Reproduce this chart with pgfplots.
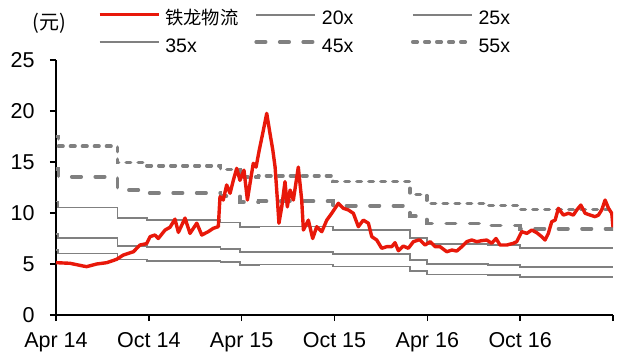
\documentclass[border=0pt]{standalone}
\usepackage{pgfplots}
\pgfplotsset{compat=1.18}
\usepackage{fontspec}
\setmainfont{Liberation Sans}
\newfontfamily\cjk{Noto Sans CJK SC}
\definecolor{redline}{RGB}{232,24,10}
\definecolor{grayline}{RGB}{128,128,128}

\begin{document}
\begin{tikzpicture}[x=1pt,y=1pt]
\path[use as bounding box] (0,0) rectangle (617,356);
\node[font=\cjk\fontsize{20}{24}\selectfont] at (49,333) {(元)};
\begin{axis}[
  scale only axis, width=557pt, height=255pt,
  at={(56pt,41pt)}, anchor=south west,
  xmin=0, xmax=36, ymin=0, ymax=25,
  axis x line*=bottom, axis y line*=left,
  axis line style={line width=1.8pt, black},
  tick style={line width=1.4pt, black},
  tick align=outside, major tick length=6pt,
  xtick={0,6,12,18,24,30,36},
  xticklabels={Apr 14,Oct 14,Apr 15,Oct 15,Apr 16,Oct 16,{}},
  ytick={0,5,10,15,20,25},
  /pgf/number format/assume math mode=true,
  tick label style={font=\fontsize{21.5}{25}\selectfont},
  xticklabel style={yshift=-8pt},
  yticklabel style={xshift=-12pt},
  legend columns=3,
  legend cell align=left,
  legend style={draw=none, fill=none, at={(0.0754,1.204)}, anchor=north west,
    inner sep=0pt, outer sep=0pt, row sep=9pt, column sep=0pt,
    nodes={inner sep=0pt},
    font=\fontsize{19.5}{24}\selectfont,
    /tikz/every odd column/.style={column sep=5pt}},
  legend image code/.code={\draw[#1] (0pt,2.5pt) -- (59pt,2.5pt);},
]
\addlegendimage{redline, line width=3.4pt}
\addlegendentry{\makebox[89pt][l]{\strut\cjk\fontsize{18.3}{22}\selectfont 铁龙物流}}

\addplot[grayline, line width=1.8pt, const plot] coordinates {
(0,6.36)(0.15,6.02)(3.97,5.44)(5.86,5.32)(10.63,5.18)(11.9,4.92)(13.1,4.96)(17.9,4.76)(22.88,4.30)(23.96,3.98)(27.93,3.90)(30.0,3.76)(36,3.76)};
\addlegendentry{\makebox[89pt][l]{\strut 20x}}

\addplot[grayline, line width=1.8pt, const plot] coordinates {
(0,7.95)(0.15,7.53)(3.97,6.80)(5.86,6.65)(10.63,6.48)(11.9,6.15)(13.1,6.20)(17.9,5.95)(22.88,5.38)(23.96,4.98)(27.93,4.88)(30.0,4.70)(36,4.70)};
\addlegendentry{\makebox[89pt][l]{\strut 25x}}

\addplot[grayline, line width=1.8pt, const plot] coordinates {
(0,11.13)(0.15,10.54)(3.97,9.52)(5.86,9.31)(10.63,9.07)(11.9,8.61)(13.1,8.68)(17.9,8.33)(22.88,7.53)(23.96,6.97)(27.93,6.83)(30.0,6.58)(36,6.58)};
\addlegendentry{\makebox[89pt][l]{\strut 35x}}

\addplot[grayline, line width=3.6pt, line cap=round, dash pattern=on 9.5pt off 14pt, const plot] coordinates {
(0,14.31)(0.15,13.55)(3.97,12.24)(5.86,11.97)(10.63,11.66)(11.9,11.07)(13.1,11.16)(17.9,10.71)(22.88,9.68)(23.96,8.96)(27.93,8.78)(30.0,8.46)(36,8.46)};
\addlegendentry{\makebox[89pt][l]{\strut 45x}}

\addplot[grayline, line width=3.6pt, line cap=round, dash pattern=on 4.5pt off 7.5pt, const plot] coordinates {
(0,17.49)(0.15,16.56)(3.97,14.96)(5.86,14.63)(10.63,14.25)(11.9,13.53)(13.1,13.64)(17.9,13.09)(22.88,11.83)(23.96,10.95)(27.93,10.73)(30.0,10.34)(36,10.34)};
\addlegendentry{\makebox[89pt][l]{\strut 55x}}

\addplot[redline, line width=3.4pt, line join=round, forget plot] coordinates {
(0.00,5.13)(0.90,5.07)(1.76,4.80)(1.98,4.74)(2.63,5.00)(3.28,5.13)(3.92,5.46)(4.35,5.88)(5.00,6.20)(5.43,6.86)(5.86,7.00)(6.08,7.68)(6.40,7.84)(6.61,7.50)(7.05,8.33)(7.37,8.60)(7.69,9.40)(7.91,8.10)(8.34,9.50)(8.66,8.00)(9.10,9.00)(9.42,7.84)(9.84,8.17)(10.17,8.50)(10.49,8.66)(10.60,11.60)(10.81,11.27)(11.03,12.75)(11.25,11.93)(11.46,13.20)(11.68,14.38)(11.89,13.20)(12.15,14.20)(12.37,11.27)(12.54,12.90)(12.75,14.87)(12.93,14.50)(13.14,16.20)(13.36,17.80)(13.62,19.77)(13.83,17.80)(14.01,16.20)(14.16,14.50)(14.31,11.27)(14.41,9.00)(14.59,10.60)(14.80,13.07)(14.95,10.60)(15.13,12.25)(15.34,11.27)(15.66,14.50)(15.88,11.27)(15.99,8.33)(16.31,9.30)(16.59,7.50)(16.85,8.66)(17.18,8.17)(17.50,9.30)(17.82,9.97)(18.25,10.95)(18.57,10.46)(18.89,10.30)(19.22,9.97)(19.54,8.66)(19.86,9.30)(20.19,9.00)(20.41,7.68)(20.73,7.35)(21.05,6.54)(21.38,6.70)(21.70,6.70)(21.91,7.09)(22.13,6.30)(22.45,6.76)(22.77,6.54)(23.10,7.19)(23.42,7.35)(23.53,7.35)(23.85,6.86)(24.18,7.19)(24.50,6.70)(24.82,6.70)(25.26,6.20)(25.58,6.37)(25.90,6.27)(26.23,6.70)(26.55,7.19)(26.87,7.35)(27.20,7.19)(27.52,7.29)(27.84,7.35)(28.16,7.03)(28.44,7.50)(28.70,6.86)(29.13,6.86)(29.56,7.03)(29.78,7.19)(30.10,8.17)(30.43,8.00)(30.75,8.33)(31.07,8.07)(31.39,7.68)(31.61,7.35)(31.82,8.00)(32.04,9.15)(32.26,9.30)(32.47,10.46)(32.79,9.80)(33.12,9.97)(33.44,9.80)(33.66,10.30)(33.92,10.78)(34.20,9.97)(34.52,9.80)(34.84,9.64)(35.06,9.80)(35.27,10.30)(35.49,11.27)(35.71,10.46)(35.92,9.97)(36.00,8.60)};
\end{axis}
\end{tikzpicture}
\end{document}
